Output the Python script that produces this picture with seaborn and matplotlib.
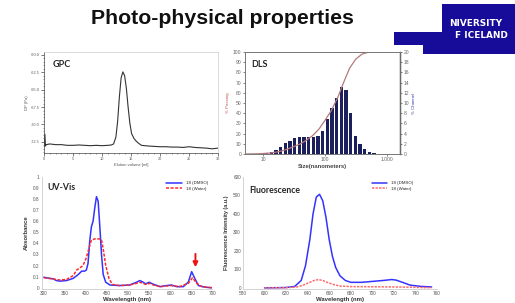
import matplotlib
matplotlib.use("Agg")
import matplotlib.pyplot as plt
import matplotlib.patches as mpatches
import matplotlib.ticker as mticker
import seaborn as sns
import pandas as pd

# ---------------- data ----------------
gpc_vol = [0.0, 0.15, 0.25, 0.4, 1, 2, 3, 4, 5, 6, 7, 8, 9, 10, 11, 11.6, 12.0, 12.4, 12.7, 13.0,
           13.3, 13.6, 13.9, 14.2, 14.5, 14.8, 15.1, 15.5, 15.9, 16.3, 16.8, 18, 19, 20, 21, 22,
           23, 24, 25, 26, 27, 28, 29, 30]
gpc_dp = [-73.2, -71.4, -73.1, -72.9, -72.8, -72.9, -72.9, -73.0, -73.0, -72.95, -73.0, -73.05,
          -73.0, -73.05, -73.0, -72.95, -72.8, -71.8, -69.5, -66.0, -63.3, -62.45, -63.0, -64.8,
          -67.5, -69.8, -71.3, -72.0, -72.4, -72.7, -73.0, -73.1, -73.15, -73.2, -73.2, -73.25,
          -73.25, -73.3, -73.2, -73.3, -73.35, -73.4, -73.5, -73.4]
gpc_yticks = [-72.5, -70.0, -67.5, -65.0, -62.5, -60.0]

dls_size = [11.3, 13.5, 16.0, 19.1, 22.7, 27.1, 32.2, 38.4, 45.6, 54.3, 64.7, 76.9, 91.6,
            109, 130, 155, 184, 219, 261, 310, 370, 440, 524, 623, 742]
dls_channel = [0.1, 0.3, 0.8, 1.4, 2.1, 2.6, 3.1, 3.3, 3.3, 3.3, 3.4, 3.6, 4.6,
               6.8, 9.1, 11.0, 13.1, 12.6, 8.1, 3.6, 1.9, 0.9, 0.4, 0.15, 0.05]
dls_curve_size = [5.2, 8, 10, 13, 16, 20, 25, 32, 40, 50, 63, 80, 100, 125, 160, 200, 250,
                  315, 400, 500, 600]
dls_passing = [0, 0.2, 0.5, 1.0, 1.8, 3.0, 5.0, 7.5, 10.0, 13.5, 18.0, 24.5, 33.0, 42.0,
               55.0, 70.0, 84.0, 93.0, 98.0, 99.7, 100]

uv_wl_dmso = [300, 314, 322, 330, 338, 354, 370, 382, 390, 397, 401, 405, 409, 413, 417, 421,
              425, 429, 433, 437, 441, 447, 457, 480, 504, 520, 528, 536, 542, 550, 558, 576,
              591, 603, 615, 631, 643, 651, 659, 667, 683, 700]
uv_abs_dmso = [0.095, 0.085, 0.08, 0.065, 0.06, 0.065, 0.085, 0.12, 0.15, 0.15, 0.16, 0.22,
               0.42, 0.55, 0.6, 0.72, 0.82, 0.78, 0.55, 0.3, 0.12, 0.05, 0.025, 0.02, 0.025,
               0.05, 0.065, 0.05, 0.035, 0.05, 0.035, 0.01, 0.02, 0.025, 0.01, 0.01, 0.05,
               0.145, 0.08, 0.02, 0.005, 0.0]
uv_wl_water = [300, 322, 338, 354, 370, 378, 386, 393, 401, 409, 413, 421, 433, 437, 441, 447,
               455, 463, 480, 504, 520, 528, 542, 552, 560, 576, 603, 622, 643, 653, 663, 675, 700]
uv_abs_water = [0.09, 0.08, 0.07, 0.075, 0.11, 0.16, 0.18, 0.2, 0.27, 0.38, 0.43, 0.44, 0.44,
                0.43, 0.35, 0.2, 0.08, 0.03, 0.02, 0.025, 0.04, 0.05, 0.03, 0.04, 0.025, 0.01,
                0.02, 0.01, 0.04, 0.09, 0.04, 0.01, 0.0]

fl_wl_dmso = [600, 620, 628, 634, 638, 642, 645, 648, 651, 654, 657, 660, 663, 666, 670, 675,
              680, 690, 700, 710, 718, 722, 728, 735, 745, 755]
fl_int_dmso = [0, 2, 8, 40, 120, 260, 400, 490, 505, 470, 380, 260, 170, 110, 65, 40, 30, 30,
               35, 40, 45, 42, 30, 15, 8, 5]
fl_wl_water = [600, 620, 630, 636, 642, 646, 650, 654, 658, 664, 670, 680, 700, 720, 735, 745, 755]
fl_int_water = [0, 1, 5, 15, 30, 40, 45, 40, 30, 18, 10, 7, 6, 5, 4, 2, 1]

legend_labels = ["18 (DMSO)", "18 (Water)"]

# ---------------- figure ----------------
sns.set_style("white")
plt.rcParams["font.family"] = ["Liberation Sans", "DejaVu Sans"]
W, H = 515, 303
fig = plt.figure(figsize=(W / 100, H / 100), dpi=100)


def box(x0, y0, x1, y1):
    return [x0 / W, 1 - y1 / H, (x1 - x0) / W, (y1 - y0) / H]


PANEL_FONT = ["Lato", "DejaVu Sans"]

# title
fig.text(222 / W, 1 - 19 / H, "Photo-physical properties", ha="center", va="center",
         fontsize=15.3, fontweight="bold", color="#111111")

# logo
logo = mpatches.Polygon([(442 / W, 1 - 4 / H), (1, 1 - 4 / H), (1, 1 - 54 / H), (423 / W, 1 - 54 / H),
                         (423 / W, 1 - 45 / H), (394 / W, 1 - 45 / H), (394 / W, 1 - 32 / H),
                         (442 / W, 1 - 32 / H)], closed=True, transform=fig.transFigure,
                        facecolor="#170C9A", edgecolor="none")
fig.patches.append(logo)
fig.text(476 / W, 1 - 23.7 / H, "NIVERSITY", ha="center", va="center", color="white",
         fontsize=6.4, fontweight="bold", family=["DejaVu Sans"])
fig.text(481.5 / W, 1 - 35.3 / H, "F ICELAND", ha="center", va="center", color="white",
         fontsize=6.4, fontweight="bold", family=["DejaVu Sans"])

# ---------------- GPC ----------------
ax1 = fig.add_axes(box(44, 52, 218, 153))
sns.lineplot(x=gpc_vol, y=gpc_dp, ax=ax1, color="#333333", lw=0.8)
ax1.set_xlim(0, 30)
ax1.set_ylim(-74.1, -59.6)
ax1.set_yticks(gpc_yticks)
ax1.set_yticklabels([f"{v:.1f}" for v in gpc_yticks])
ax1.set_xticks(range(0, 31, 5))
ax1.xaxis.set_minor_locator(mticker.MultipleLocator(1))
ax1.yaxis.set_minor_locator(mticker.MultipleLocator(0.5))
ax1.tick_params(axis="both", which="major", labelsize=2.8, length=2, width=0.5, color="#444444",
                pad=1, labelcolor="#555555", left=True, bottom=True)
ax1.tick_params(axis="both", which="minor", length=1, width=0.4, color="#444444", left=True, bottom=True)
for s in ax1.spines.values():
    s.set_color("#cccccc")
    s.set_linewidth(0.5)
ax1.spines["left"].set_color("#444444")
ax1.spines["bottom"].set_color("#444444")
ax1.set_xlabel("Elution volume [ml]", fontsize=3, color="#555555", labelpad=1.5)
ax1.set_ylabel("DP (Pa)", fontsize=3, color="#555555", labelpad=1.5)
ax1.text(0.05, 0.88, "GPC", transform=ax1.transAxes, fontsize=6.5, fontweight="bold",
         family=PANEL_FONT, ha="left", va="center")

# ---------------- DLS ----------------
ax2 = fig.add_axes(box(245, 52, 400, 154))
ax2r = ax2.twinx()
df_bar = pd.DataFrame({"size": dls_size, "channel": dls_channel})
sns.histplot(data=df_bar, x="size", weights="channel", log_scale=True,
             binwidth=0.0757, binrange=(1.053 - 0.0757 / 2, 2.870 + 0.0757 / 2),
             shrink=0.7, color="#1b1f5c", edgecolor="none", alpha=1, ax=ax2r)
sns.lineplot(x=dls_curve_size, y=dls_passing, ax=ax2, color="#b57a7c", lw=0.9)
ax2.set_xscale("log")
ax2.set_xlim(5.05, 1644)
ax2.set_ylim(0, 100)
ax2r.set_ylim(0, 20)
ax2.set_yticks(range(0, 101, 10))
ax2r.set_yticks(range(0, 21, 2))
ax2.set_xticks([10, 100, 1000])
ax2.set_xticklabels(["10", "100", "1.000"])
ax2.xaxis.set_minor_locator(mticker.NullLocator())
for a in (ax2, ax2r):
    a.tick_params(axis="both", which="major", labelsize=3.6, length=1.5, width=0.5,
                  color="#555555", pad=1, labelcolor="#666666")
    for s in a.spines.values():
        s.set_color("#777777")
        s.set_linewidth(0.6)
ax2.tick_params(left=True, bottom=True)
ax2r.tick_params(right=True)
ax2r.spines["right"].set_color("#333333")
ax2r.spines["right"].set_linewidth(1.0)
ax2.set_zorder(ax2r.get_zorder() + 1)
ax2.patch.set_visible(False)
ax2.set_ylabel("% Passing", fontsize=3.2, color="#c0504d", labelpad=2)
ax2r.set_ylabel("% Channel", fontsize=3.2, color="#3b3bb0", labelpad=2)
ax2.set_xlabel("Size(nanometers)", fontsize=4.2, fontweight="bold", color="#444444", labelpad=1)
ax2r.set_xlabel("")
ax2.text(0.04, 0.88, "DLS", transform=ax2.transAxes, fontsize=6.5, fontweight="bold",
         family=PANEL_FONT, ha="left", va="center")

# ---------------- UV-Vis ----------------
ax3 = fig.add_axes(box(41.7, 176.7, 212.3, 289))
sns.lineplot(x=uv_wl_dmso, y=uv_abs_dmso, ax=ax3, color="#3333ff", lw=1.1, label=legend_labels[0])
sns.lineplot(x=uv_wl_water, y=uv_abs_water, ax=ax3, color="#ff2a2a", lw=1.1, label=legend_labels[1],
             linestyle=(0, (2, 1)))
ax3.set_xlim(295, 700)
ax3.set_ylim(-0.011, 1.0)
ax3.set_yticks([i / 10 for i in range(11)])
ax3.set_yticklabels(["0", "0.1", "0.2", "0.3", "0.4", "0.5", "0.6", "0.7", "0.8", "0.9", "1"])
ax3.set_xticks(range(300, 701, 50))
ax3.tick_params(axis="both", labelsize=3.4, length=0, pad=1.5, labelcolor="#555555")
sns.despine(ax=ax3)
for s in ("left", "bottom"):
    ax3.spines[s].set_color("#cccccc")
    ax3.spines[s].set_linewidth(0.6)
ax3.set_xlabel("Wavelength (nm)", fontsize=4.3, fontweight="bold", color="#333333", labelpad=0.5)
ax3.set_ylabel("Absorbance", fontsize=4.3, fontweight="bold", color="#333333", labelpad=3)
ax3.legend(loc="upper right", fontsize=3.2, frameon=False, handlelength=3.5, borderaxespad=0.6,
           labelspacing=0.3)
ax3.text(0.035, 0.9, "UV-Vis", transform=ax3.transAxes, fontsize=6.3, fontweight="bold",
         family=PANEL_FONT, ha="left", va="center")
ax3.annotate("", xy=(660, 0.16), xytext=(660, 0.33),
             arrowprops=dict(arrowstyle="-|>", color="#ee1111", lw=1.4, mutation_scale=7))

# ---------------- Fluorescence ----------------
ax4 = fig.add_axes(box(243, 176.7, 437, 289))
sns.lineplot(x=fl_wl_dmso, y=fl_int_dmso, ax=ax4, color="#3333ff", lw=1.1, label=legend_labels[0])
sns.lineplot(x=fl_wl_water, y=fl_int_water, ax=ax4, color="#ff6b6b", lw=1.1, label=legend_labels[1],
             linestyle=(0, (1.5, 0.8)))
ax4.set_xlim(580, 760)
ax4.set_ylim(-6, 600)
ax4.set_yticks(range(0, 601, 100))
ax4.set_xticks(range(580, 761, 20))
ax4.tick_params(axis="both", labelsize=3.4, length=0, pad=1.5, labelcolor="#555555")
sns.despine(ax=ax4)
for s in ("left", "bottom"):
    ax4.spines[s].set_color("#cccccc")
    ax4.spines[s].set_linewidth(0.6)
ax4.set_xlabel("Wavelength (nm)", fontsize=4.3, fontweight="bold", color="#333333", labelpad=0.5)
ax4.set_ylabel("Fluorescence Intensity (a.u.)", fontsize=4.0, fontweight="bold", color="#333333",
               labelpad=3)
ax4.legend(loc="upper right", fontsize=3.2, frameon=False, handlelength=3.5, borderaxespad=0.6,
           labelspacing=0.3, bbox_to_anchor=(0.9, 1.0))
ax4.text(0.03, 0.88, "Fluorescence", transform=ax4.transAxes, fontsize=6.3, fontweight="bold",
         family=PANEL_FONT, ha="left", va="center")

fig.savefig("out.png", dpi=100)
